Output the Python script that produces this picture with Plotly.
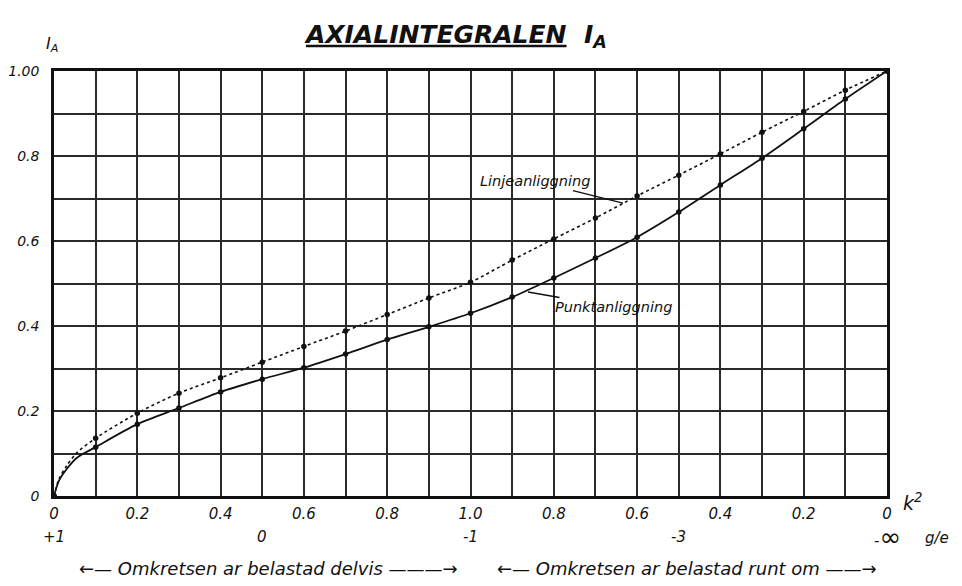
import plotly.graph_objects as go

# ---- data ----
k_pos = [0.0, 0.1, 0.2, 0.3, 0.4, 0.5, 0.6, 0.7, 0.8, 0.9, 1.0,
         1.1, 1.2, 1.3, 1.4, 1.5, 1.6, 1.7, 1.8, 1.9, 2.0]
linje = [0.0, 0.136, 0.195, 0.242, 0.278, 0.315, 0.352, 0.388, 0.427, 0.466, 0.503,
         0.555, 0.605, 0.654, 0.706, 0.755, 0.805, 0.856, 0.905, 0.955, 1.0]
punkt = [0.0, 0.115, 0.169, 0.207, 0.245, 0.275, 0.302, 0.334, 0.368, 0.398, 0.430,
         0.468, 0.513, 0.560, 0.609, 0.668, 0.732, 0.795, 0.864, 0.934, 1.0]
# curve readings near the origin (between first two columns)
start_x = [0.012, 0.031, 0.055]
linje_start = [0.040, 0.072, 0.102]
punkt_start = [0.036, 0.064, 0.090]

x_tick_vals = k_pos
x_tick_text = ["0", "", "0.2", "", "0.4", "", "0.6", "", "0.8", "", "1.0",
               "", "0.8", "", "0.6", "", "0.4", "", "0.2", "", "0"]
ge_pos = [0.0, 0.5, 1.0, 1.5, 2.0]
ge_text = ["+1", "0", "-1", "-3", "-<span style='font-size:26px'>\u221e</span>"]
y_tick_vals = [0.0, 0.1, 0.2, 0.3, 0.4, 0.5, 0.6, 0.7, 0.8, 0.9, 1.0]
y_tick_text = ["0", "", "0.2", "", "0.4", "", "0.6", "", "0.8", "", "1.00"]

FONT = "DejaVu Sans"
ink = "#111111"

fig = go.Figure()

def curve(xs_start, ys_start, ys, dash, width):
    fig.add_trace(go.Scatter(
        x=[k_pos[0]] + xs_start + k_pos[1:], y=[ys[0]] + ys_start + ys[1:],
        mode="lines", line=dict(color=ink, width=width, dash=dash, shape="spline", smoothing=0.8),
        hoverinfo="skip", showlegend=False, cliponaxis=False))
    fig.add_trace(go.Scatter(
        x=k_pos, y=ys, mode="markers",
        marker=dict(color=ink, size=5.5), showlegend=False, cliponaxis=False))

curve(start_x, linje_start, linje, "dot", 1.6)
curve(start_x, punkt_start, punkt, "solid", 1.8)

def f(size):
    return dict(family=FONT, size=size, style="italic", color=ink)

ann = []
# second row of x labels (g/e)
for xv, t in zip(ge_pos, ge_text):
    ann.append(dict(x=xv, y=0, xref="x", yref="paper", yanchor="middle", yshift=-41, text=t,
                    showarrow=False, font=f(15)))
ann.append(dict(x=2.0, y=0, xref="x", yref="paper", yanchor="middle", xshift=50, yshift=-42,
                text="g/e", showarrow=False, font=f(15)))
ann.append(dict(x=2.0, y=0, xref="x", yref="paper", yanchor="middle", xshift=25, yshift=-6,
                text="k<sup>2</sup>", showarrow=False, font=f(19)))
# y axis title
ann.append(dict(x=0, y=1, xref="paper", yref="paper", yanchor="middle", xshift=-10, yshift=27,
                text="I<sub>A</sub>", showarrow=False, font=f(16)))
# curve labels
ann.append(dict(x=1.366, y=0.689, xref="x", yref="y", ax=-88, ay=-22, text="Linjeanliggning",
                showarrow=True, arrowhead=0, arrowwidth=1.3, arrowcolor=ink, font=f(14.5)))
ann.append(dict(x=1.138, y=0.48, xref="x", yref="y", ax=86, ay=15, text="Punktanliggning",
                showarrow=True, arrowhead=0, arrowwidth=1.3, arrowcolor=ink, font=f(14.5)))
# bottom captions
ann.append(dict(x=0.514, y=0, xref="x", yref="paper", yanchor="middle", yshift=-72,
                text="\u2190\u2014 Omkretsen ar belastad delvis \u2014\u2014\u2014\u2192",
                showarrow=False, font=f(18)))
ann.append(dict(x=1.52, y=0, xref="x", yref="paper", yanchor="middle", yshift=-72,
                text="\u2190\u2014 Omkretsen ar belastad runt om \u2014\u2014\u2192",
                showarrow=False, font=f(18)))

fig.update_layout(
    width=954, height=578,
    margin=dict(l=46, r=75, t=63, b=90),
    paper_bgcolor="white", plot_bgcolor="white",
    title=dict(text="<u>AXIALINTEGRALEN</u>  I<sub>A</sub>", x=0.47, xanchor="center",
               y=0.955, yanchor="middle",
               font=dict(family=FONT, size=25, style="italic", weight="bold", color=ink)),
    annotations=ann,
    showlegend=False,
)
fig.update_xaxes(range=[0, 2], tickvals=x_tick_vals, ticktext=x_tick_text,
                 showgrid=True, gridcolor="#2a2a2a", gridwidth=1.8,
                 showline=True, linecolor=ink, linewidth=2.5, mirror=True,
                 ticks="", zeroline=False, ticklabelstandoff=2, automargin=False,
                 tickfont=f(15))
fig.update_yaxes(range=[0, 1], tickvals=y_tick_vals, ticktext=y_tick_text,
                 showgrid=True, gridcolor="#2a2a2a", gridwidth=1.8,
                 showline=True, linecolor=ink, linewidth=2.5, mirror=True,
                 ticks="", zeroline=False, ticklabelstandoff=9, automargin=False,
                 tickfont=f(14))

fig.write_html("out.html")
